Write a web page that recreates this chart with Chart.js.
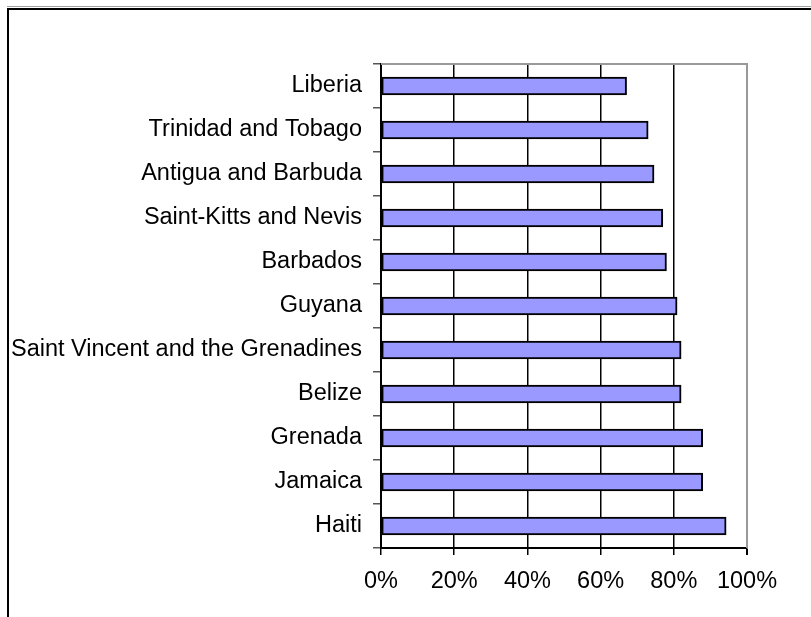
<!DOCTYPE html>
<html>
<head>
<meta charset="utf-8">
<script src="https://cdn.jsdelivr.net/npm/chart.js@4/dist/chart.umd.min.js"></script>
<style>
  html, body { margin: 0; padding: 0; background: #ffffff; }
  canvas { display: block; }
</style>
</head>
<body>
<canvas id="c" width="811" height="617"></canvas>
<script>
const categories = [
  'Liberia',
  'Trinidad and Tobago',
  'Antigua and Barbuda',
  'Saint-Kitts and Nevis',
  'Barbados',
  'Guyana',
  'Saint Vincent and the Grenadines',
  'Belize',
  'Grenada',
  'Jamaica',
  'Haiti'
];
const values = [67.1, 73.0, 74.6, 77.0, 78.0, 80.9, 82.0, 82.0, 87.9, 87.9, 94.3];
const xTickValues = [0, 20, 40, 60, 80, 100];
const xTickLabels = ['0%', '20%', '40%', '60%', '80%', '100%'];

const FONT = '"Liberation Sans", Arial, sans-serif';

const framePlugin = {
  id: 'frame',
  beforeDraw(chart) {
    const ctx = chart.ctx;
    ctx.save();
    ctx.fillStyle = '#ffffff';
    ctx.fillRect(0, 0, chart.width, chart.height);
    // outer frame (top + left)
    ctx.fillStyle = '#a0a0a0';
    ctx.fillRect(7, 6, chart.width, 1);
    ctx.fillStyle = '#000000';
    ctx.fillRect(7, 8, chart.width, 2);
    ctx.fillRect(7, 8, 2, chart.height);
    ctx.restore();
  },
  afterDraw(chart) {
    const a = chart.chartArea;
    const ctx = chart.ctx;
    ctx.save();
    ctx.strokeStyle = '#999999';
    ctx.lineWidth = 2;
    ctx.beginPath();
    ctx.moveTo(a.left, a.top);
    ctx.lineTo(a.right, a.top);
    ctx.lineTo(a.right, a.bottom);
    ctx.stroke();
    ctx.restore();
  }
};

new Chart(document.getElementById('c'), {
  type: 'bar',
  data: {
    labels: categories,
    datasets: [{
      data: values,
      backgroundColor: '#9999FF',
      borderColor: '#000000',
      borderWidth: 2,
      borderSkipped: false,
      barThickness: 18
    }]
  },
  plugins: [framePlugin],
  options: {
    indexAxis: 'y',
    responsive: false,
    animation: false,
    devicePixelRatio: 1,
    layout: { padding: { left: 0, top: 64, right: 64, bottom: 0 } },
    plugins: {
      legend: { display: false },
      tooltip: { enabled: false }
    },
    scales: {
      x: {
        type: 'linear',
        min: 0,
        max: 100,
        afterBuildTicks(scale) {
          scale.ticks = xTickValues.map(v => ({ value: v }));
        },
        afterFit(scale) { scale.height = 69; },
        ticks: {
          color: '#000000',
          font: { family: FONT, size: 23.5 },
          padding: 12,
          maxRotation: 0,
          callback: (v) => xTickLabels[xTickValues.indexOf(v)]
        },
        grid: {
          color: (ctx) => (ctx.tick && ctx.tick.value === 100) ? '#999999' : '#000000',
          lineWidth: (ctx) => (ctx.tick && ctx.tick.value === 100) ? 2 : 1.5,
          tickColor: '#000000',
          tickLength: 7,
          drawOnChartArea: true
        },
        border: { display: true, color: '#000000', width: 2 }
      },
      y: {
        type: 'category',
        afterFit(scale) { scale.width = 381; },
        ticks: {
          color: '#000000',
          font: { family: FONT, size: 23.5 },
          padding: 11
        },
        grid: {
          offset: true,
          drawOnChartArea: false,
          tickColor: '#555555',
          tickLength: 8,
          lineWidth: 1.5
        },
        border: { display: true, color: '#000000', width: 2 }
      }
    }
  }
});
</script>
</body>
</html>
